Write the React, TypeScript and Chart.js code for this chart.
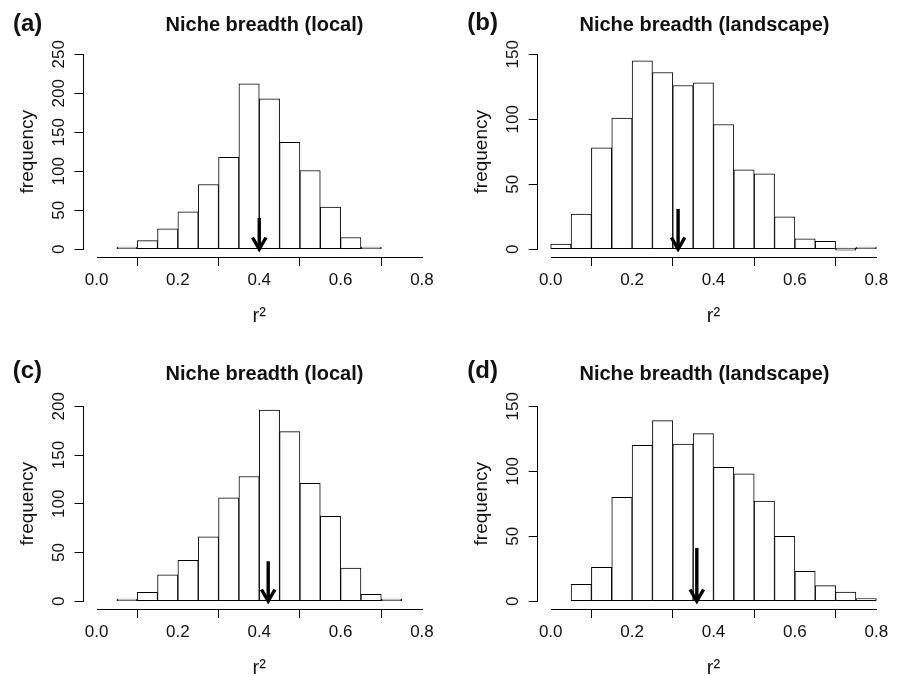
import React, { useEffect, useRef } from 'react';
import { Chart, registerables } from 'chart.js';

Chart.register(...registerables);

const FONT = "'Liberation Sans', Arial, Helvetica, sans-serif";

// ---------- data ----------
const panelLetters = ['(a)', '(b)', '(c)', '(d)'];
const panelTitles = [
  'Niche breadth (local)',
  'Niche breadth (landscape)',
  'Niche breadth (local)',
  'Niche breadth (landscape)',
];
const xAxisTitle = 'r²';
const yAxisTitle = 'frequency';
const xTickValues = [0, 0.2, 0.4, 0.6, 0.8];

const binsA = [0.075, 0.125, 0.175, 0.225, 0.275, 0.325, 0.375, 0.425, 0.475, 0.525, 0.575, 0.625, 0.675];
const countsA = [1, 11, 26, 48, 83, 118, 212, 193, 137, 101, 54, 15, 1];
const yTicksA = [0, 50, 100, 150, 200, 250];
const arrowA = { x: 0.4, top: 40 };

const binsB = [0.025, 0.075, 0.125, 0.175, 0.225, 0.275, 0.325, 0.375, 0.425, 0.475, 0.525, 0.575, 0.625, 0.675, 0.725, 0.775];
const countsB = [4, 27, 78, 101, 145, 136, 126, 128, 96, 61, 58, 25, 8, 6, 0, 1];
const yTicksB = [0, 50, 100, 150];
const arrowB = { x: 0.313, top: 31 };

const binsC = [0.075, 0.125, 0.175, 0.225, 0.275, 0.325, 0.375, 0.425, 0.475, 0.525, 0.575, 0.625, 0.675, 0.725];
const countsC = [1, 9, 27, 42, 66, 106, 128, 196, 174, 121, 87, 34, 7, 2];
const yTicksC = [0, 50, 100, 150, 200];
const arrowC = { x: 0.422, top: 41 };

const binsD = [0.075, 0.125, 0.175, 0.225, 0.275, 0.325, 0.375, 0.425, 0.475, 0.525, 0.575, 0.625, 0.675, 0.725, 0.775];
const countsD = [13, 26, 80, 120, 139, 121, 129, 103, 98, 77, 50, 23, 12, 7, 2];
const yTicksD = [0, 50, 100, 150];
const arrowD = { x: 0.359, top: 41 };

// ---------- layout ----------
const CW = 449;
const CH = 338;
const CHART_TOP = 46.5;
const CHART_BOTTOM = 257;
const X_H = 75;
const Y_W = 70;

const LAYOUT = [
  { left: 0, top: 0, chartL: 83.5, chartR: 435, letterX: 13, letterY: 30.5, titleX: 264.5, titleY: 31 },
  { left: 449, top: 0, chartL: 88.7, chartR: 440.3, letterX: 18.3, letterY: 30, titleX: 255.5, titleY: 31 },
  { left: 0, top: 352, chartL: 83.5, chartR: 435, letterX: 12.7, letterY: 25.5, titleX: 264.5, titleY: 27.5 },
  { left: 449, top: 352, chartL: 88.7, chartR: 440.3, letterX: 18.3, letterY: 26, titleX: 255.5, titleY: 27.5 },
];

const PANELS = [
  { bins: binsA, counts: countsA, yTicks: yTicksA, arrow: arrowA },
  { bins: binsB, counts: countsB, yTicks: yTicksB, arrow: arrowB },
  { bins: binsC, counts: countsC, yTicks: yTicksC, arrow: arrowC },
  { bins: binsD, counts: countsD, yTicks: yTicksD, arrow: arrowD },
];

function makeDecor(idx: number) {
  const L = LAYOUT[idx];
  const P = PANELS[idx];
  return {
    id: 'decor' + idx,
    afterDraw(chart: any) {
      const { ctx, chartArea } = chart;
      const xs = chart.scales.x;
      const ys = chart.scales.y;
      ctx.save();
      // axis lines (R style: from first to last tick)
      ctx.strokeStyle = '#000';
      ctx.lineWidth = 1;
      ctx.lineCap = 'butt';
      const yb = Math.round(chartArea.bottom) + 0.5;
      const x0 = Math.round(xs.getPixelForValue(xTickValues[0])) + 0.5;
      const x1 = Math.round(xs.getPixelForValue(xTickValues[xTickValues.length - 1])) + 0.5;
      ctx.beginPath();
      ctx.moveTo(x0 - 0.5, yb);
      ctx.lineTo(x1 + 0.5, yb);
      ctx.stroke();
      const xl = Math.round(chartArea.left) - 0.5;
      const y0 = Math.round(ys.getPixelForValue(P.yTicks[0])) + 0.5;
      const y1 = Math.round(ys.getPixelForValue(P.yTicks[P.yTicks.length - 1])) + 0.5;
      ctx.beginPath();
      ctx.moveTo(xl, y0 + 0.5);
      ctx.lineTo(xl, y1 - 0.5);
      ctx.stroke();

      // arrow
      const ax = xs.getPixelForValue(P.arrow.x);
      const atop = ys.getPixelForValue(P.arrow.top);
      const atip = ys.getPixelForValue(0);
      ctx.strokeStyle = '#000';
      ctx.lineWidth = 3.4;
      ctx.lineCap = 'butt';
      ctx.lineJoin = 'miter';
      ctx.beginPath();
      ctx.moveTo(ax, atop);
      ctx.lineTo(ax, atip - 1);
      ctx.stroke();
      const wl = 13.5;
      const ang = (30 * Math.PI) / 180;
      ctx.beginPath();
      ctx.moveTo(ax - wl * Math.sin(ang), atip - wl * Math.cos(ang));
      ctx.lineTo(ax, atip);
      ctx.lineTo(ax + wl * Math.sin(ang), atip - wl * Math.cos(ang));
      ctx.stroke();

      // title and panel letter
      ctx.fillStyle = '#111';
      ctx.textBaseline = 'alphabetic';
      ctx.font = `bold 20px ${FONT}`;
      ctx.textAlign = 'center';
      ctx.fillText(panelTitles[idx], L.titleX, L.titleY);
      ctx.font = `bold 24px ${FONT}`;
      ctx.textAlign = 'left';
      ctx.fillText(panelLetters[idx], L.letterX, L.letterY);
      ctx.restore();
    },
  };
}

function Panel({ idx }: { idx: number }) {
  const ref = useRef<HTMLCanvasElement>(null);
  useEffect(() => {
    const L = LAYOUT[idx];
    const P = PANELS[idx];
    const yMax = P.yTicks[P.yTicks.length - 1];
    const xMin = xTickValues[0];
    const xMax = xTickValues[xTickValues.length - 1];
    const xPad = (xMax - xMin) * 0.04;
    const tickGrid = {
      display: true,
      drawOnChartArea: false,
      drawTicks: true,
      tickLength: 9,
      color: '#000',
      lineWidth: 1,
    };
    const chart = new Chart(ref.current as HTMLCanvasElement, {
      type: 'bar',
      data: {
        datasets: [
          {
            data: P.bins.map((b, i) => ({ x: b, y: P.counts[i] })),
            backgroundColor: '#ffffff',
            borderColor: '#000',
            borderWidth: 1,
            borderSkipped: false,
            barPercentage: 1,
            categoryPercentage: 1,
            minBarLength: 2,
            grouped: false,
          } as any,
        ],
      },
      options: {
        responsive: false,
        animation: false,
        events: [],
        layout: {
          padding: {
            left: L.chartL - Y_W,
            right: CW - L.chartR,
            top: CHART_TOP,
            bottom: CH - CHART_BOTTOM - X_H,
          },
        },
        plugins: {
          legend: { display: false },
          tooltip: { enabled: false },
          title: { display: false },
        },
        scales: {
          x: {
            type: 'linear',
            min: xMin - xPad,
            max: xMax + xPad,
            offset: false,
            afterBuildTicks: (s: any) => {
              s.ticks = xTickValues.map((v) => ({ value: v }));
            },
            afterFit: (s: any) => {
              s.height = X_H;
            },
            grid: tickGrid,
            border: { display: false },
            ticks: {
              autoSkip: false,
              maxRotation: 0,
              minRotation: 0,
              padding: 4,
              color: '#111',
              font: { family: FONT, size: 17 },
              callback: (v: any) => Number(v).toFixed(1),
            },
            title: {
              display: true,
              text: xAxisTitle,
              color: '#111',
              font: { family: FONT, size: 20 },
              padding: { top: 0, bottom: 3.5 },
            },
          },
          y: {
            type: 'linear',
            min: -0.04 * yMax,
            max: 1.04 * yMax,
            afterBuildTicks: (s: any) => {
              s.ticks = P.yTicks.map((v) => ({ value: v }));
            },
            afterFit: (s: any) => {
              s.width = Y_W;
            },
            grid: tickGrid,
            border: { display: false },
            ticks: {
              autoSkip: false,
              minRotation: 90,
              maxRotation: 90,
              crossAlign: 'center',
              padding: 1,
              color: '#111',
              font: { family: FONT, size: 17 },
              callback: (v: any) => String(v),
            },
            title: {
              display: true,
              text: yAxisTitle,
              color: '#111',
              font: { family: FONT, size: 19 },
              padding: { top: 3, bottom: 0 },
            },
          },
        },
      } as any,
      plugins: [makeDecor(idx)],
    });
    return () => chart.destroy();
  }, [idx]);
  const L = LAYOUT[idx];
  return (
    <canvas
      ref={ref}
      width={CW}
      height={CH}
      style={{ position: 'absolute', left: L.left, top: L.top, width: CW, height: CH }}
    />
  );
}

export default function App() {
  return (
    <div
      style={{
        position: 'absolute',
        left: 0,
        top: 0,
        width: 898,
        height: 676,
        overflow: 'hidden',
        background: '#fff',
      }}
    >
      {[0, 1, 2, 3].map((i) => (
        <Panel key={i} idx={i} />
      ))}
    </div>
  );
}
